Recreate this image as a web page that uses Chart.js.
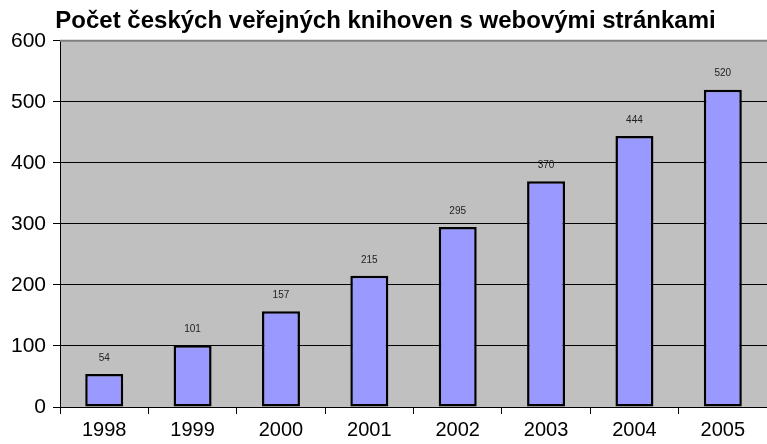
<!DOCTYPE html>
<html>
<head>
<meta charset="utf-8">
<script src="https://cdn.jsdelivr.net/npm/chart.js@4.4.0/dist/chart.umd.min.js"></script>
<style>
  html, body { margin: 0; padding: 0; background: #fff; }
  #wrap { width: 767px; height: 444px; position: relative; }
</style>
</head>
<body>
<div id="wrap"><canvas id="chart" width="767" height="444"></canvas></div>
<script>
const years = ["1998", "1999", "2000", "2001", "2002", "2003", "2004", "2005"];
const libraries = [54, 101, 157, 215, 295, 370, 444, 520];
const titleText = "Počet českých veřejných knihoven s webovými stránkami";

// gray plot background + thicker top border
const plotArea = {
  id: "plotArea",
  beforeDraw(chart) {
    const { ctx, chartArea: a } = chart;
    ctx.save();
    ctx.fillStyle = "#c0c0c0";
    ctx.fillRect(a.left, a.top, a.right - a.left, a.bottom - a.top);
    ctx.restore();
  },
  afterDatasetsDraw(chart) {
    const { ctx, chartArea: a } = chart;
    ctx.save();
    ctx.strokeStyle = "#808080";
    ctx.lineWidth = 2;
    ctx.beginPath();
    ctx.moveTo(a.left, a.top);
    ctx.lineTo(a.right, a.top);
    ctx.stroke();
    ctx.restore();
  }
};

// small value labels above the bars
const valueLabels = {
  id: "valueLabels",
  afterDatasetsDraw(chart) {
    const { ctx } = chart;
    const meta = chart.getDatasetMeta(0);
    ctx.save();
    ctx.font = "10px 'Liberation Sans', Arial, sans-serif";
    ctx.fillStyle = "#222";
    ctx.textAlign = "center";
    ctx.textBaseline = "middle";
    meta.data.forEach((bar, i) => {
      ctx.fillText(String(libraries[i]), bar.x, bar.y - 16);
    });
    ctx.restore();
  }
};

new Chart(document.getElementById("chart"), {
  type: "bar",
  data: {
    labels: years,
    datasets: [
      {
        data: libraries,
        backgroundColor: "#9999ff",
        borderColor: "#000",
        borderWidth: 2.5,
        borderSkipped: false,
        categoryPercentage: 1,
        barPercentage: 0.43
      }
    ]
  },
  options: {
    responsive: false,
    animation: false,
    layout: { padding: { left: 4, right: 0, top: 0, bottom: -2 } },
    plugins: {
      legend: { display: false },
      tooltip: { enabled: false },
      title: {
        display: true,
        text: titleText,
        color: "#000",
        font: { family: "'Liberation Sans', Arial, sans-serif", size: 24, weight: "bold" },
        padding: { top: 7, bottom: 5 }
      }
    },
    scales: {
      x: {
        offset: true,
        grid: {
          offset: true,
          drawOnChartArea: false,
          color: "#000",
          tickLength: 7
        },
        border: { color: "#000", width: 1 },
        ticks: {
          color: "#000",
          padding: 4,
          font: { family: "'Liberation Sans', Arial, sans-serif", size: 20 }
        }
      },
      y: {
        min: 0,
        max: 600,
        ticks: {
          stepSize: 100,
          color: "#000",
          padding: 7,
          font: { family: "'Liberation Sans', Arial, sans-serif", size: 21 }
        },
        grid: {
          color: "#000",
          lineWidth: 1,
          tickLength: 7
        },
        border: { color: "#000", width: 1 }
      }
    }
  },
  plugins: [plotArea, valueLabels]
});
</script>
</body>
</html>
